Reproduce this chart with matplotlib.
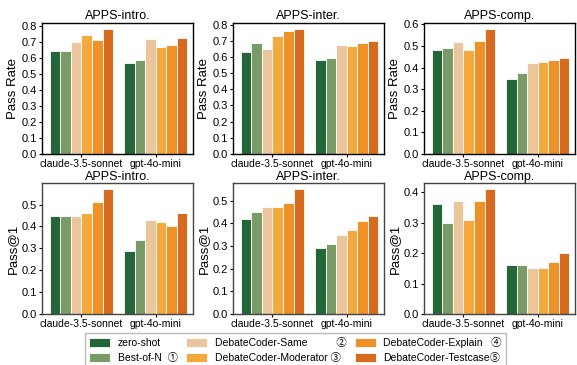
import numpy as np
import matplotlib
matplotlib.use("Agg")
from matplotlib import pyplot as plt
from matplotlib.ticker import MultipleLocator

plt.rcParams['font.family'] = ['Liberation Sans', 'Noto Sans CJK SC', 'DejaVu Sans']

models = ['claude-3.5-sonnet', 'gpt-4o-mini']
methods = ['zero-shot', 'Best-of-N', 'DebateCoder-Same', 'DebateCoder-Moderator',
           'DebateCoder-Explain', 'DebateCoder-Testcase']
legend_labels = ['zero-shot', 'Best-of-N  \u2460', 'DebateCoder-Same          \u2461',
                 'DebateCoder-Moderator \u2462', 'DebateCoder-Explain   \u2463',
                 'DebateCoder-Testcase\u2464']
colors = ['#236638', '#789b68', '#ebc59c', '#f4a93f', '#ee9126', '#d66b20']
datasets = ['APPS-intro.', 'APPS-inter.', 'APPS-comp.']

# pass rate, rows = methods, cols = models
pass_rate_intro = [[0.64, 0.57], [0.64, 0.585], [0.70, 0.716], [0.744, 0.666], [0.71, 0.679], [0.779, 0.723]]
pass_rate_inter = [[0.628, 0.579], [0.686, 0.591], [0.647, 0.672], [0.728, 0.666], [0.759, 0.684], [0.771, 0.697]]
pass_rate_comp = [[0.481, 0.346], [0.49, 0.374], [0.518, 0.42], [0.481, 0.425], [0.522, 0.434], [0.578, 0.443]]

# pass@1
pass1_intro = [[0.45, 0.29], [0.45, 0.34], [0.45, 0.43], [0.46, 0.42], [0.51, 0.40], [0.57, 0.46]]
pass1_inter = [[0.42, 0.29], [0.45, 0.31], [0.47, 0.35], [0.47, 0.37], [0.49, 0.41], [0.55, 0.43]]
pass1_comp = [[0.36, 0.16], [0.30, 0.16], [0.37, 0.15], [0.31, 0.15], [0.37, 0.17], [0.41, 0.20]]

rows = [
    ('Pass Rate', [pass_rate_intro, pass_rate_inter, pass_rate_comp]),
    ('Pass@1', [pass1_intro, pass1_inter, pass1_comp]),
]

fig = plt.figure(figsize=(5.77, 3.65), dpi=100)
lefts = [42 / 577, 233 / 577, 424 / 577]
bottoms = [(365 - 154) / 365, (365 - 314) / 365]
w = 151 / 577
h = 131 / 365

x = np.arange(len(models))
bw = 0.142
handles = []
for r, (ylabel, data) in enumerate(rows):
    for c, vals in enumerate(data):
        ax = fig.add_axes([lefts[c], bottoms[r], w, h])
        vals = np.array(vals)
        for i in range(len(methods)):
            b = ax.bar(x + (i - 2.5) * bw, vals[i], bw, color=colors[i],
                       edgecolor='white', linewidth=0.6)
            if r == 0 and c == 0:
                handles.append(b)
        ax.set_xticks(x)
        ax.set_xticklabels(models, fontsize=7.5)
        ax.set_xlim(-0.53, 1.5)
        ax.yaxis.set_major_locator(MultipleLocator(0.1))
        ax.tick_params(axis='x', length=2, width=0.8, pad=1.5)
        ax.tick_params(axis='y', length=2.5, width=0.8, labelsize=8, pad=1)
        ax.set_ylabel(ylabel, fontsize=9.5, labelpad=2)
        edge = 'black' if r == 0 else '#444444'
        for s in ax.spines.values():
            s.set_linewidth(1.0)
            s.set_edgecolor(edge)
        ax.set_title(datasets[c], fontsize=9, pad=3 if r == 0 else 2)

fig.legend(handles, legend_labels, ncol=3, loc='upper left',
           bbox_to_anchor=(85 / 577, 1 - 333 / 365), fontsize=7.5, frameon=True,
           handlelength=2.0, handleheight=0.9, handletextpad=0.75, columnspacing=0.8,
           labelspacing=0.45, borderpad=0.4, borderaxespad=0, fancybox=False,
           edgecolor='#bbbbbb', framealpha=1)

fig.savefig('out.png', dpi=100)
